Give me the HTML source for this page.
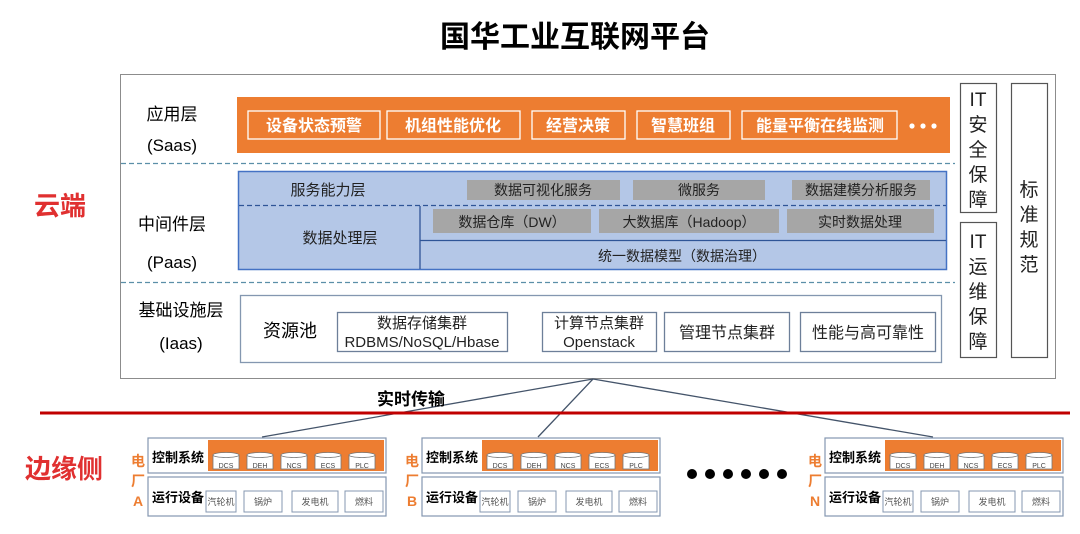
<!DOCTYPE html>
<html><head><meta charset="utf-8"><style>
html,body{margin:0;padding:0;background:#fff;}
svg{display:block;font-family:"Liberation Sans","Noto Sans CJK SC",sans-serif;}
</style></head><body>
<svg width="1080" height="534" viewBox="0 0 1080 534" xmlns="http://www.w3.org/2000/svg">
<defs>
<g id="cyl">
<rect x="0" y="2" width="26" height="14" fill="#fff" stroke="#777" stroke-width="0.8"/>
<ellipse cx="13" cy="2" rx="13" ry="2.5" fill="#fff" stroke="#777" stroke-width="0.8"/>
</g>
<g id="plant">
<rect x="0" y="0" width="238" height="35" fill="#fff" stroke="#8497b0" stroke-width="1.2"/>
<rect x="60" y="2" width="176" height="31" fill="#ed7d31"/>
<text x="4" y="24" font-size="13" font-weight="bold" fill="#000">控制系统</text>
<use href="#cyl" x="65" y="15"/><text x="78" y="30" font-size="7" text-anchor="middle" fill="#444">DCS</text>
<use href="#cyl" x="99" y="15"/><text x="112" y="30" font-size="7" text-anchor="middle" fill="#444">DEH</text>
<use href="#cyl" x="133" y="15"/><text x="146" y="30" font-size="7" text-anchor="middle" fill="#444">NCS</text>
<use href="#cyl" x="167" y="15"/><text x="180" y="30" font-size="7" text-anchor="middle" fill="#444">ECS</text>
<use href="#cyl" x="201" y="15"/><text x="214" y="30" font-size="7" text-anchor="middle" fill="#444">PLC</text>
<rect x="0" y="39" width="238" height="39" fill="#fff" stroke="#8497b0" stroke-width="1.2"/>
<text x="4" y="64" font-size="13" font-weight="bold" fill="#000">运行设备</text>
<rect x="58" y="53" width="30" height="21" fill="#fff" stroke="#8497b0"/><text x="73" y="67" font-size="9" text-anchor="middle" fill="#555">汽轮机</text>
<rect x="96" y="53" width="38" height="21" fill="#fff" stroke="#8497b0"/><text x="115" y="67" font-size="9" text-anchor="middle" fill="#555">锅炉</text>
<rect x="144" y="53" width="46" height="21" fill="#fff" stroke="#8497b0"/><text x="167" y="67" font-size="9" text-anchor="middle" fill="#555">发电机</text>
<rect x="197" y="53" width="38" height="21" fill="#fff" stroke="#8497b0"/><text x="216" y="67" font-size="9" text-anchor="middle" fill="#555">燃料</text>
</g>
</defs>

<text x="575" y="47" font-size="30" font-weight="bold" text-anchor="middle" fill="#000">国华工业互联网平台</text>

<!-- main box -->
<rect x="120.5" y="74.5" width="935" height="304" fill="#fff" stroke="#8c8c8c" stroke-width="1"/>

<!-- app layer -->
<text x="172" y="120" font-size="17" text-anchor="middle">应用层</text>
<text x="172" y="151" font-size="17" text-anchor="middle">(Saas)</text>
<rect x="237" y="97" width="713" height="56" fill="#ed7d31"/>
<g fill="none" stroke="#fff" stroke-width="1.3">
<rect x="248" y="111" width="132" height="28"/>
<rect x="387" y="111" width="133" height="28"/>
<rect x="532" y="111" width="93" height="28"/>
<rect x="637" y="111" width="93" height="28"/>
<rect x="742" y="111" width="155" height="28"/>
</g>
<g fill="#fff" font-size="16" font-weight="bold" text-anchor="middle">
<text x="314" y="131">设备状态预警</text>
<text x="453" y="131">机组性能优化</text>
<text x="578" y="131">经营决策</text>
<text x="683" y="131">智慧班组</text>
<text x="820" y="131">能量平衡在线监测</text>
</g>
<circle cx="912" cy="126" r="2.6" fill="#fff"/><circle cx="923" cy="126" r="2.6" fill="#fff"/><circle cx="934" cy="126" r="2.6" fill="#fff"/>

<line x1="121" y1="163.5" x2="955" y2="163.5" stroke="#5b8fa8" stroke-width="1.3" stroke-dasharray="5,3"/>

<!-- paas -->
<text x="172" y="230" font-size="17" text-anchor="middle">中间件层</text>
<text x="172" y="268" font-size="17" text-anchor="middle">(Paas)</text>
<rect x="238.5" y="171.5" width="708" height="98" fill="#b4c7e7" stroke="#4472c4" stroke-width="1.5"/>
<line x1="239" y1="205.5" x2="946" y2="205.5" stroke="#2f5597" stroke-width="1.3" stroke-dasharray="5,3"/>
<line x1="420" y1="206" x2="420" y2="269" stroke="#2f5597" stroke-width="1.3"/>
<line x1="420" y1="240.5" x2="946" y2="240.5" stroke="#2f5597" stroke-width="1.3"/>
<text x="328" y="195" font-size="15" text-anchor="middle" fill="#222">服务能力层</text>
<text x="340" y="243" font-size="15" text-anchor="middle" fill="#222">数据处理层</text>
<g fill="#a6a6a6">
<rect x="467" y="180" width="153" height="20"/>
<rect x="633" y="180" width="132" height="20"/>
<rect x="792" y="180" width="138" height="20"/>
<rect x="433" y="209" width="158" height="24"/>
<rect x="599" y="209" width="180" height="24"/>
<rect x="787" y="209" width="147" height="24"/>
</g>
<g font-size="14" text-anchor="middle" fill="#222">
<text x="543" y="195">数据可视化服务</text>
<text x="699" y="195">微服务</text>
<text x="861" y="195">数据建模分析服务</text>
<text x="512" y="227">数据仓库（DW）</text>
<text x="689" y="227">大数据库（Hadoop）</text>
<text x="860" y="227">实时数据处理</text>
<text x="682" y="261">统一数据模型（数据治理）</text>
</g>

<line x1="121" y1="282.5" x2="955" y2="282.5" stroke="#5b8fa8" stroke-width="1.3" stroke-dasharray="5,3"/>

<!-- iaas -->
<text x="181" y="316" font-size="17" text-anchor="middle">基础设施层</text>
<text x="181" y="349" font-size="17" text-anchor="middle">(Iaas)</text>
<rect x="240.5" y="295.5" width="701" height="67" fill="#fff" stroke="#8497b0" stroke-width="1.3"/>
<text x="290" y="337" font-size="18" text-anchor="middle">资源池</text>
<g fill="#fff" stroke="#6d7f99" stroke-width="1.3">
<rect x="337.5" y="312.5" width="170" height="39"/>
<rect x="542.5" y="312.5" width="114" height="39"/>
<rect x="664.5" y="312.5" width="125" height="39"/>
<rect x="800.5" y="312.5" width="135" height="39"/>
</g>
<g font-size="15" text-anchor="middle" fill="#222">
<text x="422" y="328">数据存储集群</text>
<text x="422" y="347">RDBMS/NoSQL/Hbase</text>
<text x="599" y="328">计算节点集群</text>
<text x="599" y="347">Openstack</text>
<text x="727" y="338" font-size="16">管理节点集群</text>
<text x="868" y="338" font-size="16">性能与高可靠性</text>
</g>

<!-- right boxes -->
<g fill="#fff" stroke="#555" stroke-width="1.2">
<rect x="960.5" y="83.5" width="36" height="129"/>
<rect x="960.5" y="222.5" width="36" height="135"/>
<rect x="1011.5" y="83.5" width="36" height="274"/>
</g>
<g font-size="19" text-anchor="middle" fill="#222">
<text x="978" y="106">IT</text><text x="978" y="131">安</text><text x="978" y="156">全</text><text x="978" y="181">保</text><text x="978" y="206">障</text>
<text x="978" y="248">IT</text><text x="978" y="273">运</text><text x="978" y="298">维</text><text x="978" y="323">保</text><text x="978" y="348">障</text>
<text x="1029" y="196">标</text><text x="1029" y="221">准</text><text x="1029" y="246">规</text><text x="1029" y="271">范</text>
</g>

<text x="60" y="215" font-size="26" font-weight="bold" fill="#e03030" text-anchor="middle">云端</text>

<!-- connectors -->
<g stroke="#44546a" stroke-width="1.3" fill="none">
<line x1="593" y1="379" x2="262" y2="437"/>
<line x1="593" y1="379" x2="538" y2="437"/>
<line x1="593" y1="379" x2="933" y2="437"/>
</g>
<line x1="40" y1="413" x2="1070" y2="413" stroke="#c00000" stroke-width="3"/>
<text x="411" y="405" font-size="17" font-weight="bold" text-anchor="middle">实时传输</text>

<text x="64" y="478" font-size="26" font-weight="bold" fill="#e03030" text-anchor="middle">边缘侧</text>

<!-- plants -->
<use href="#plant" x="148" y="438"/>
<use href="#plant" x="422" y="438"/>
<use href="#plant" x="825" y="438"/>
<g font-size="14" font-weight="bold" fill="#ed7d31" text-anchor="middle">
<text x="138" y="466">电</text><text x="138" y="486">厂</text><text x="138" y="506">A</text>
<text x="412" y="466">电</text><text x="412" y="486">厂</text><text x="412" y="506">B</text>
<text x="815" y="466">电</text><text x="815" y="486">厂</text><text x="815" y="506">N</text>
</g>
<g fill="#000">
<circle cx="692" cy="474" r="5"/><circle cx="710" cy="474" r="5"/><circle cx="728" cy="474" r="5"/>
<circle cx="746" cy="474" r="5"/><circle cx="764" cy="474" r="5"/><circle cx="782" cy="474" r="5"/>
</g>
</svg>
</body></html>
